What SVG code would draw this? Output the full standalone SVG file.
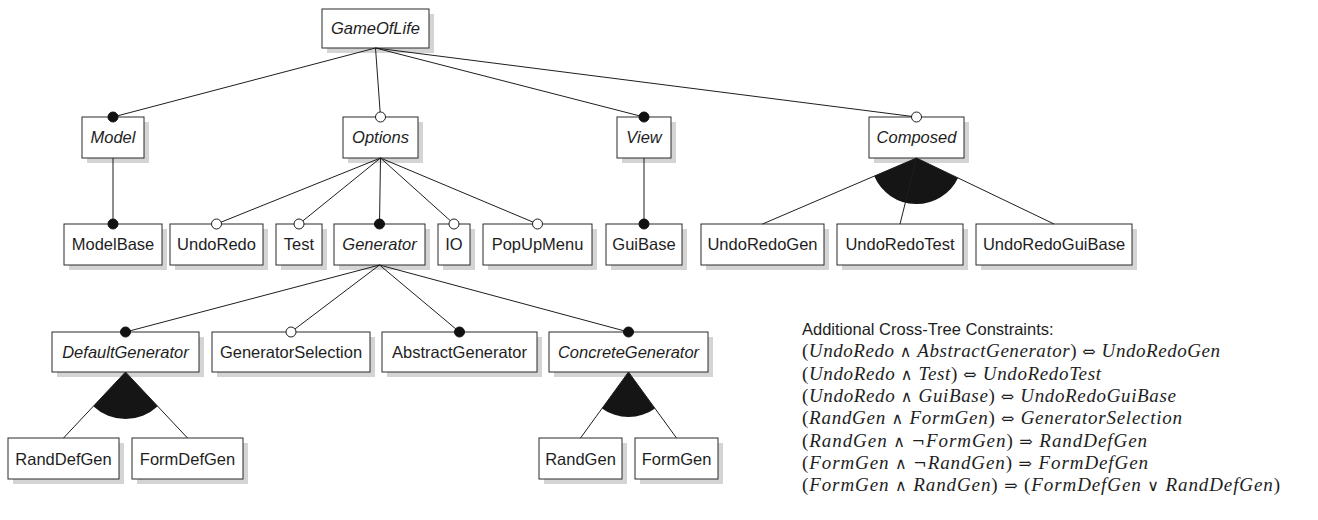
<svg xmlns="http://www.w3.org/2000/svg" width="1318" height="520" viewBox="0 0 1318 520">
  <style>
    .shadow { fill: #d4d4d4; stroke: none; }
    .box { fill: #ffffff; stroke: #2a2a2a; stroke-width: 1; }
    .lbl { font-family: "Liberation Sans", "DejaVu Sans", sans-serif; font-size: 16.5px; fill: #1e1e1e; text-anchor: middle; }
    .abs { font-style: italic; }
    .edge { stroke: #1e1e1e; stroke-width: 1; fill: none; }
    .mand { fill: #111111; stroke: #111111; stroke-width: 1; }
    .opt { fill: #ffffff; stroke: #1e1e1e; stroke-width: 1; }
    .orgrp { fill: #151515; stroke: none; }
    .head { font-family: "Liberation Sans", "DejaVu Sans", sans-serif; font-size: 16.5px; fill: #1e1e1e; }
    .math { font-family: "Liberation Serif", "DejaVu Serif", serif; font-size: 19px; fill: #1e1e1e; }
    .math .v { font-style: italic; }
    .math .op { font-family: "DejaVu Serif", "Liberation Serif", serif; font-size: 16px; }
  </style>

  <!-- feature nodes -->
  <g id="n-GameOfLife">
    <rect class="shadow" x="327" y="14" width="107" height="39"/>
    <rect class="box" x="322" y="9" width="107" height="39"/>
    <text class="lbl abs" x="375.5" y="34">GameOfLife</text>
  </g>

  <g id="n-Model">
    <rect class="shadow" x="87" y="122" width="62" height="41"/>
    <rect class="box" x="82" y="117" width="62" height="41"/>
    <text class="lbl abs" x="113" y="143">Model</text>
  </g>
  <g id="n-Options">
    <rect class="shadow" x="348" y="122" width="75" height="41"/>
    <rect class="box" x="343" y="117" width="75" height="41"/>
    <text class="lbl abs" x="380.5" y="143">Options</text>
  </g>
  <g id="n-View">
    <rect class="shadow" x="622" y="122" width="54" height="41"/>
    <rect class="box" x="617" y="117" width="54" height="41"/>
    <text class="lbl abs" x="644" y="143">View</text>
  </g>
  <g id="n-Composed">
    <rect class="shadow" x="874" y="122" width="95" height="41"/>
    <rect class="box" x="869" y="117" width="95" height="41"/>
    <text class="lbl abs" x="916.5" y="143">Composed</text>
  </g>

  <g id="n-ModelBase">
    <rect class="shadow" x="69" y="229" width="98" height="41"/>
    <rect class="box" x="64" y="224" width="98" height="41"/>
    <text class="lbl" x="113" y="250">ModelBase</text>
  </g>
  <g id="n-UndoRedo">
    <rect class="shadow" x="175" y="229" width="93" height="41"/>
    <rect class="box" x="170" y="224" width="93" height="41"/>
    <text class="lbl" x="216.5" y="250">UndoRedo</text>
  </g>
  <g id="n-Test">
    <rect class="shadow" x="281" y="229" width="46" height="41"/>
    <rect class="box" x="276" y="224" width="46" height="41"/>
    <text class="lbl" x="299" y="250">Test</text>
  </g>
  <g id="n-Generator">
    <rect class="shadow" x="339" y="229" width="91" height="41"/>
    <rect class="box" x="334" y="224" width="91" height="41"/>
    <text class="lbl abs" x="379.5" y="250">Generator</text>
  </g>
  <g id="n-IO">
    <rect class="shadow" x="443" y="229" width="32" height="41"/>
    <rect class="box" x="438" y="224" width="32" height="41"/>
    <text class="lbl" x="454" y="250">IO</text>
  </g>
  <g id="n-PopUpMenu">
    <rect class="shadow" x="488" y="229" width="109" height="41"/>
    <rect class="box" x="483" y="224" width="109" height="41"/>
    <text class="lbl" x="537.5" y="250">PopUpMenu</text>
  </g>
  <g id="n-GuiBase">
    <rect class="shadow" x="611" y="229" width="76" height="41"/>
    <rect class="box" x="606" y="224" width="76" height="41"/>
    <text class="lbl" x="644" y="250">GuiBase</text>
  </g>
  <g id="n-UndoRedoGen">
    <rect class="shadow" x="706" y="229" width="123" height="41"/>
    <rect class="box" x="701" y="224" width="123" height="41"/>
    <text class="lbl" x="762.5" y="250">UndoRedoGen</text>
  </g>
  <g id="n-UndoRedoTest">
    <rect class="shadow" x="842" y="229" width="126" height="41"/>
    <rect class="box" x="837" y="224" width="126" height="41"/>
    <text class="lbl" x="900" y="250">UndoRedoTest</text>
  </g>
  <g id="n-UndoRedoGuiBase">
    <rect class="shadow" x="981" y="229" width="156" height="41"/>
    <rect class="box" x="976" y="224" width="156" height="41"/>
    <text class="lbl" x="1054" y="250">UndoRedoGuiBase</text>
  </g>

  <g id="n-DefaultGenerator">
    <rect class="shadow" x="57" y="337" width="147" height="40"/>
    <rect class="box" x="52" y="332" width="147" height="40"/>
    <text class="lbl abs" x="125.5" y="357.5">DefaultGenerator</text>
  </g>
  <g id="n-GeneratorSelection">
    <rect class="shadow" x="217" y="337" width="158" height="40"/>
    <rect class="box" x="212" y="332" width="158" height="40"/>
    <text class="lbl" x="291" y="357.5">GeneratorSelection</text>
  </g>
  <g id="n-AbstractGenerator">
    <rect class="shadow" x="387" y="337" width="155" height="40"/>
    <rect class="box" x="382" y="332" width="155" height="40"/>
    <text class="lbl" x="459.5" y="357.5">AbstractGenerator</text>
  </g>
  <g id="n-ConcreteGenerator">
    <rect class="shadow" x="554" y="337" width="159" height="40"/>
    <rect class="box" x="549" y="332" width="159" height="40"/>
    <text class="lbl abs" x="628.5" y="357.5">ConcreteGenerator</text>
  </g>

  <g id="n-RandDefGen">
    <rect class="shadow" x="13" y="443" width="111" height="41"/>
    <rect class="box" x="8" y="438" width="111" height="41"/>
    <text class="lbl" x="63.5" y="464.5">RandDefGen</text>
  </g>
  <g id="n-FormDefGen">
    <rect class="shadow" x="137" y="443" width="111" height="41"/>
    <rect class="box" x="132" y="438" width="111" height="41"/>
    <text class="lbl" x="187.5" y="464.5">FormDefGen</text>
  </g>
  <g id="n-RandGen">
    <rect class="shadow" x="544" y="443" width="83" height="41"/>
    <rect class="box" x="539" y="438" width="83" height="41"/>
    <text class="lbl" x="580.5" y="464.5">RandGen</text>
  </g>
  <g id="n-FormGen">
    <rect class="shadow" x="640" y="443" width="83" height="41"/>
    <rect class="box" x="635" y="438" width="83" height="41"/>
    <text class="lbl" x="676.5" y="464.5">FormGen</text>
  </g>

  <!-- parent-child connectors, group wedges and mandatory/optional markers -->
  <g id="connectors">
    <!-- GameOfLife -->
    <line class="edge" x1="375.5" y1="48" x2="113" y2="117"/>
    <line class="edge" x1="375.5" y1="48" x2="380.5" y2="117"/>
    <line class="edge" x1="375.5" y1="48" x2="644" y2="117"/>
    <line class="edge" x1="375.5" y1="48" x2="916.5" y2="117"/>
    <!-- Model / View -->
    <line class="edge" x1="113" y1="158" x2="113" y2="224"/>
    <line class="edge" x1="644" y1="158" x2="644" y2="224"/>
    <!-- Options -->
    <line class="edge" x1="380.5" y1="158" x2="216.5" y2="224"/>
    <line class="edge" x1="380.5" y1="158" x2="299" y2="224"/>
    <line class="edge" x1="380.5" y1="158" x2="379.5" y2="224"/>
    <line class="edge" x1="380.5" y1="158" x2="454" y2="224"/>
    <line class="edge" x1="380.5" y1="158" x2="537.5" y2="224"/>
    <!-- Generator -->
    <line class="edge" x1="379.5" y1="265" x2="125.5" y2="332"/>
    <line class="edge" x1="379.5" y1="265" x2="291" y2="332"/>
    <line class="edge" x1="379.5" y1="265" x2="459.5" y2="332"/>
    <line class="edge" x1="379.5" y1="265" x2="628.5" y2="332"/>

    <!-- Composed: or-group -->
    <path class="orgrp" d="M916.5,158 L874.2,176.1 A46,46 0 0 0 958,177.9 Z"/>
    <line class="edge" x1="916.5" y1="158" x2="762.5" y2="224"/>
    <line class="edge" x1="916.5" y1="158" x2="900" y2="224"/>
    <line class="edge" x1="916.5" y1="158" x2="1054" y2="224"/>

    <!-- DefaultGenerator: or-group -->
    <path class="orgrp" d="M125.5,372 L93.3,406.3 A47,47 0 0 0 157.7,406.3 Z"/>
    <line class="edge" x1="125.5" y1="372" x2="63.5" y2="438"/>
    <line class="edge" x1="125.5" y1="372" x2="187.5" y2="438"/>

    <!-- ConcreteGenerator: or-group -->
    <path class="orgrp" d="M628.5,372 L602,408.4 A45,45 0 0 0 655,408.4 Z"/>
    <line class="edge" x1="628.5" y1="372" x2="580.5" y2="438"/>
    <line class="edge" x1="628.5" y1="372" x2="676.5" y2="438"/>

    <!-- markers -->
    <circle class="mand" cx="113" cy="117" r="5"/>
    <circle class="opt" cx="380.5" cy="117" r="5"/>
    <circle class="mand" cx="644" cy="117" r="5"/>
    <circle class="opt" cx="916.5" cy="117" r="5"/>
    <circle class="mand" cx="113" cy="224" r="5"/>
    <circle class="opt" cx="216.5" cy="224" r="5"/>
    <circle class="opt" cx="299" cy="224" r="5"/>
    <circle class="mand" cx="379.5" cy="224" r="5"/>
    <circle class="opt" cx="454" cy="224" r="5"/>
    <circle class="opt" cx="537.5" cy="224" r="5"/>
    <circle class="mand" cx="644" cy="224" r="5"/>
    <circle class="mand" cx="125.5" cy="332" r="5"/>
    <circle class="opt" cx="291" cy="332" r="5"/>
    <circle class="mand" cx="459.5" cy="332" r="5"/>
    <circle class="mand" cx="628.5" cy="332" r="5"/>
  </g>

  <!-- cross-tree constraints -->
  <g id="constraints">
    <text class="head" x="802" y="335">Additional Cross-Tree Constraints:</text>
    <text class="math" x="802" y="357" textLength="418" lengthAdjust="spacing">(<tspan class="v">UndoRedo</tspan> <tspan class="op">∧</tspan> <tspan class="v">AbstractGenerator</tspan>) <tspan class="op">⇔</tspan> <tspan class="v">UndoRedoGen</tspan></text>
    <text class="math" x="802" y="379.5" textLength="299" lengthAdjust="spacing">(<tspan class="v">UndoRedo</tspan> <tspan class="op">∧</tspan> <tspan class="v">Test</tspan>) <tspan class="op">⇔</tspan> <tspan class="v">UndoRedoTest</tspan></text>
    <text class="math" x="802" y="402" textLength="374" lengthAdjust="spacing">(<tspan class="v">UndoRedo</tspan> <tspan class="op">∧</tspan> <tspan class="v">GuiBase</tspan>) <tspan class="op">⇔</tspan> <tspan class="v">UndoRedoGuiBase</tspan></text>
    <text class="math" x="802" y="424" textLength="380" lengthAdjust="spacing">(<tspan class="v">RandGen</tspan> <tspan class="op">∧</tspan> <tspan class="v">FormGen</tspan>) <tspan class="op">⇔</tspan> <tspan class="v">GeneratorSelection</tspan></text>
    <text class="math" x="802" y="446.5" textLength="345" lengthAdjust="spacing">(<tspan class="v">RandGen</tspan> <tspan class="op">∧</tspan> <tspan class="op">¬</tspan><tspan class="v">FormGen</tspan>) <tspan class="op">⇒</tspan> <tspan class="v">RandDefGen</tspan></text>
    <text class="math" x="802" y="469" textLength="346" lengthAdjust="spacing">(<tspan class="v">FormGen</tspan> <tspan class="op">∧</tspan> <tspan class="op">¬</tspan><tspan class="v">RandGen</tspan>) <tspan class="op">⇒</tspan> <tspan class="v">FormDefGen</tspan></text>
    <text class="math" x="802" y="491" textLength="478" lengthAdjust="spacing">(<tspan class="v">FormGen</tspan> <tspan class="op">∧</tspan> <tspan class="v">RandGen</tspan>) <tspan class="op">⇒</tspan> (<tspan class="v">FormDefGen</tspan> <tspan class="op">∨</tspan> <tspan class="v">RandDefGen</tspan>)</text>
  </g>
</svg>
